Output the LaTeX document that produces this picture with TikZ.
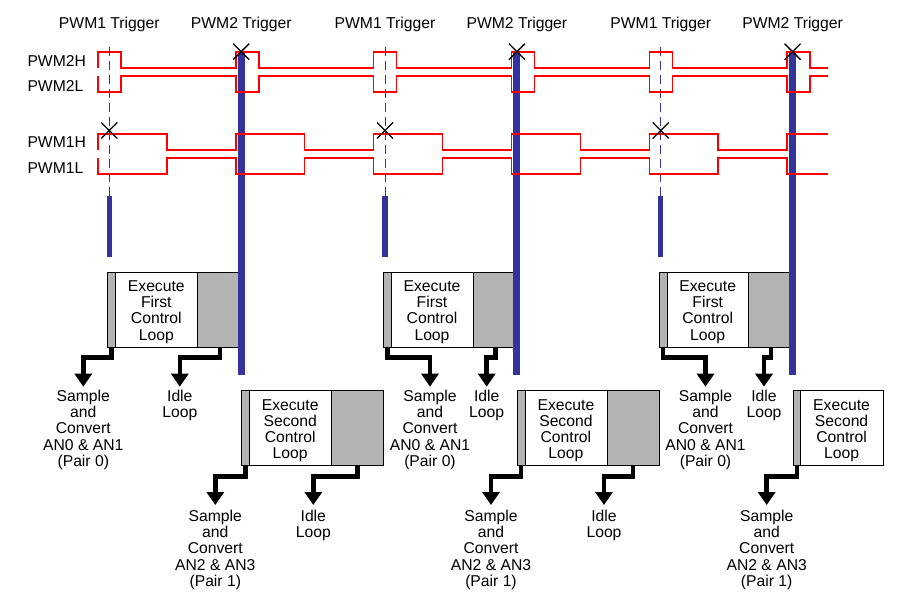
\documentclass[tikz,border=0pt]{standalone}
\usepackage{fontspec}
\setmainfont{Liberation Sans}
\usetikzlibrary{arrows.meta}
\definecolor{barblue}{RGB}{51,51,153}
\definecolor{boxgrey}{RGB}{179,179,179}
\begin{document}
\begin{tikzpicture}[x=1pt,y=-1pt,
  font=\fontsize{15.7}{16.1}\selectfont,
  sig/.style={draw=red, line width=1.4pt},
  trigbar/.style={draw=barblue, line width=7pt},
  shortbar/.style={draw=barblue, line width=5.5pt},
  trigdash/.style={draw=barblue, line width=1pt, dash pattern=on 9pt off 5pt},
  xmark/.style={draw=black, line width=1.3pt},
  boxpart/.style={draw=black, line width=0.9pt, inner sep=0pt, outer sep=0pt, anchor=north west},
  greypart/.style={boxpart, fill=boxgrey},
  whitepart/.style={boxpart, fill=white},
  flow/.style={draw=black, line width=4.5pt, -{Triangle[width=17pt,length=13pt]}},
  lbl/.style={inner sep=0pt, anchor=base, align=center},
  sidelbl/.style={inner sep=0pt, anchor=base west}]
\useasboundingbox (0,0) rectangle (905,605);

% signal names
\node[sidelbl] (n2h) at (27.3,66.7) {PWM2H};
\node[sidelbl] (n2l) at (27.3,91.7) {PWM2L};
\node[sidelbl] (n1h) at (27.3,147.7) {PWM1H};
\node[sidelbl] (n1l) at (27.3,173.3) {PWM1L};

\foreach \k/\fax/\fix/\six in {0/83.3/179.8/313.3, 1/430/486.7/604, 2/705.5/764/0}{
  \pgfmathsetmacro\o{275.7*\k}
  % trigger labels
  \node[lbl] (t1\k) at (109.3+\o,28.3) {PWM1 Trigger};
  \node[lbl] (t2\k) at (241.2+\o,28.3) {PWM2 Trigger};
  % first control loop box
  \node[greypart, minimum width=8pt, minimum height=74.6pt] (fs\k) at (107.7+\o,272.7) {};
  \node[whitepart, minimum width=81.6pt, minimum height=74.6pt] (fw\k) at (115.7+\o,272.7) {};
  \node[greypart, minimum width=41pt, minimum height=74.6pt] (fg\k) at (197.3+\o,272.7) {};
  \node[lbl] (ft\k) at (156.3+\o,340) {Execute\\First\\Control\\Loop};
  % second control loop box
  \node[greypart, minimum width=7.6pt, minimum height=75pt] (ss\k) at (241.7+\o,390) {};
  \node[whitepart, minimum width=82.4pt, minimum height=75pt] (sw\k) at (249.3+\o,390) {};
  \ifnum\k<2
    \node[greypart, minimum width=51.6pt, minimum height=75pt] (sg\k) at (331.7+\o,390) {};
  \fi
  \node[lbl] (st\k) at (290.2+\o,458.3) {Execute\\Second\\Control\\Loop};
  % outcome labels
  \coordinate (fa\k) at (\fax,386.7);
  \coordinate (fi\k) at (\fix,386.7);
  \node[lbl] (fsc\k) at (\fax,466.1) {Sample\\and\\Convert\\AN0 \& AN1\\(Pair 0)};
  \node[lbl] (fil\k) at (\fix,417.8) {Idle\\Loop};
  \coordinate (sa\k) at (215.3+\o,505);
  \node[lbl] (ssc\k) at (215.3+\o,586.1) {Sample\\and\\Convert\\AN2 \& AN3\\(Pair 1)};
  % flow arrows
  \draw[flow] (fs\k.south) -- ++(0,10.2) -| (fa\k);
  \draw[flow] ([xshift=2pt]fg\k.south) -- ++(0,10.2) -| (fi\k);
  \draw[flow] (ss\k.south) -- ++(0,11.7) -| (sa\k);
  \ifnum\k<2
    \coordinate (si\k) at (\six,505);
    \node[lbl] (sil\k) at (\six,537.8) {Idle\\Loop};
    \draw[flow] (sg\k.south) -- ++(0,11.7) -| (si\k);
  \fi
  % trigger markers
  \coordinate (d1\k) at (109.3+\o,46.7);
  \coordinate (d2\k) at (109.3+\o,196);
  \coordinate (d3\k) at (109.3+\o,256.7);
  \draw[trigdash] (d1\k) -- (d2\k);
  \draw[shortbar] (d2\k) -- (d3\k);
  \coordinate (b1\k) at (241.2+\o,52);
  \coordinate (b2\k) at (241.2+\o,374.5);
  \draw[trigbar] (b1\k) -- (b2\k);
}

% PWM waveforms
\draw[sig] (98,68) \foreach \p in {98,235.8,373.6,511.4,649.2,787}{ -- (\p,68) -- (\p,52) -- (\p+23,52) -- (\p+23,68) } -- (828,68);
\draw[sig] (98,76) \foreach \p in {98,235.8,373.6,511.4,649.2,787}{ -- (\p,76) -- (\p,92) -- (\p+23,92) -- (\p+23,76) } -- (828,76);
\draw[sig] (98,150) \foreach \p in {98,235.8,373.6,511.4,649.2}{ -- (\p,150) -- (\p,134) -- (\p+68.9,134) -- (\p+68.9,150) } -- (787,150) -- (787,134) -- (828,134);
\draw[sig] (98,158) \foreach \p in {98,235.8,373.6,511.4,649.2}{ -- (\p,158) -- (\p,174) -- (\p+68.9,174) -- (\p+68.9,158) } -- (787,158) -- (787,174) -- (828,174);

% crosses at trigger instants
\foreach \k in {0,1,2}{
  \pgfmathsetmacro\o{275.7*\k}
  \draw[xmark] (101.3+\o,122.5) -- (117.3+\o,138.5) (101.3+\o,138.5) -- (117.3+\o,122.5);
  \draw[xmark] (233.2+\o,43.7) -- (249.2+\o,59.7) (233.2+\o,59.7) -- (249.2+\o,43.7);
}
\end{tikzpicture}
\end{document}
